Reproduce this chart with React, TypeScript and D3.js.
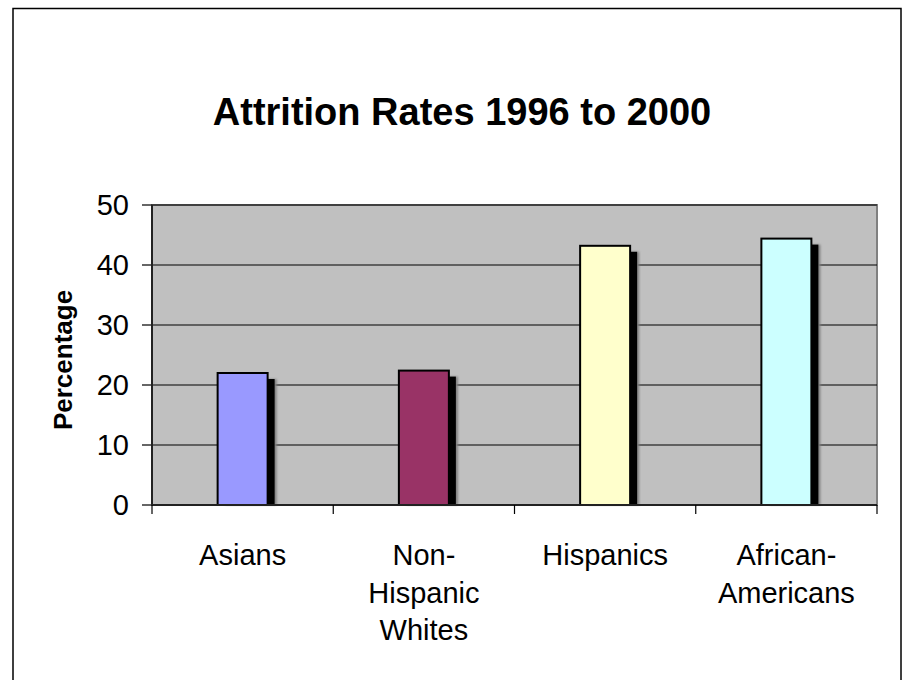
import React from "react";
import * as d3 from "d3";

const categories = ["Asians", "Non-Hispanic Whites", "Hispanics", "African-Americans"];
const labelLines = [["Asians"], ["Non-", "Hispanic", "Whites"], ["Hispanics"], ["African-", "Americans"]];
const values = [22.0, 22.4, 43.2, 44.4];
const colors = ["#9999FF", "#993366", "#FFFFCC", "#CCFFFF"];
const yTicks = [0, 10, 20, 30, 40, 50];
const title = "Attrition Rates 1996 to 2000";
const yTitle = "Percentage";

export default function App() {
  const W = 902, H = 680;
  const L = 152, R = 877, T = 205, B = 505;
  const x = d3.scaleBand().domain(categories).range([L, R]).paddingInner(0).paddingOuter(0);
  const y = d3.scaleLinear().domain([0, 50]).range([B, T]);
  const bw = 50;
  const font = "'Liberation Sans', Arial, sans-serif";
  return (
    <svg width={W} height={H} style={{ position: "absolute", left: 0, top: 0 }} fontFamily={font}>
      <defs>
        <filter id="blur" x="-20%" y="-20%" width="140%" height="140%">
          <feGaussianBlur stdDeviation="1.2" />
        </filter>
      </defs>
      <rect x={0} y={0} width={W} height={H} fill="#fff" />
      <rect x={13} y={8.5} width={888} height={H + 10} fill="none" stroke="#000" strokeWidth={1.5} />
      <text x={462} y={125} textAnchor="middle" fontSize={38} fontWeight="bold">{title}</text>
      <rect x={L} y={T} width={R - L} height={B - T} fill="#C0C0C0" stroke="#808080" strokeWidth={2} />
      {yTicks.map((t) => (
        <g key={t}>
          {t > 0 && <line x1={L} x2={R} y1={y(t)} y2={y(t)} stroke="#000" strokeWidth={1.2} />}
          <line x1={L - 10} x2={L} y1={y(t)} y2={y(t)} stroke="#000" strokeWidth={1.2} />
          <text x={L - 23} y={y(t) + 10} textAnchor="end" fontSize={29}>{t}</text>
        </g>
      ))}
      <line x1={L} x2={L} y1={T} y2={B} stroke="#222" strokeWidth={2} />
      {categories.map((c, i) => {
        const cx = (x(c) as number) + x.bandwidth() / 2;
        const x0 = cx - bw / 2;
        const yt = y(values[i]);
        return (
          <g key={c}>
            <rect x={x0 + 8} y={yt + 6} width={bw + 1} height={B - yt - 6} fill="#808080" filter="url(#blur)" />
            <rect x={x0 + 8} y={yt + 6} width={bw - 1} height={B - yt - 6} fill="#000" />
            <rect x={x0} y={yt} width={bw} height={B - yt} fill={colors[i]} stroke="#000" strokeWidth={2} />
          </g>
        );
      })}
      <line x1={L} x2={R} y1={B} y2={B} stroke="#222" strokeWidth={2} />
      {d3.range(categories.length + 1).map((i) => {
        const xx = L + i * x.bandwidth();
        return <line key={i} x1={xx} x2={xx} y1={B} y2={B + 9} stroke="#000" strokeWidth={1.2} />;
      })}
      {categories.map((c, i) => {
        const cx = (x(c) as number) + x.bandwidth() / 2;
        return (
          <text key={c} x={cx} textAnchor="middle" fontSize={29}>
            {labelLines[i].map((ln, j) => (
              <tspan key={j} x={cx} y={565 + j * 37.5}>{ln}</tspan>
            ))}
          </text>
        );
      })}
      <text transform={`translate(72,360) rotate(-90)`} textAnchor="middle" fontSize={26} fontWeight="bold">{yTitle}</text>
    </svg>
  );
}
